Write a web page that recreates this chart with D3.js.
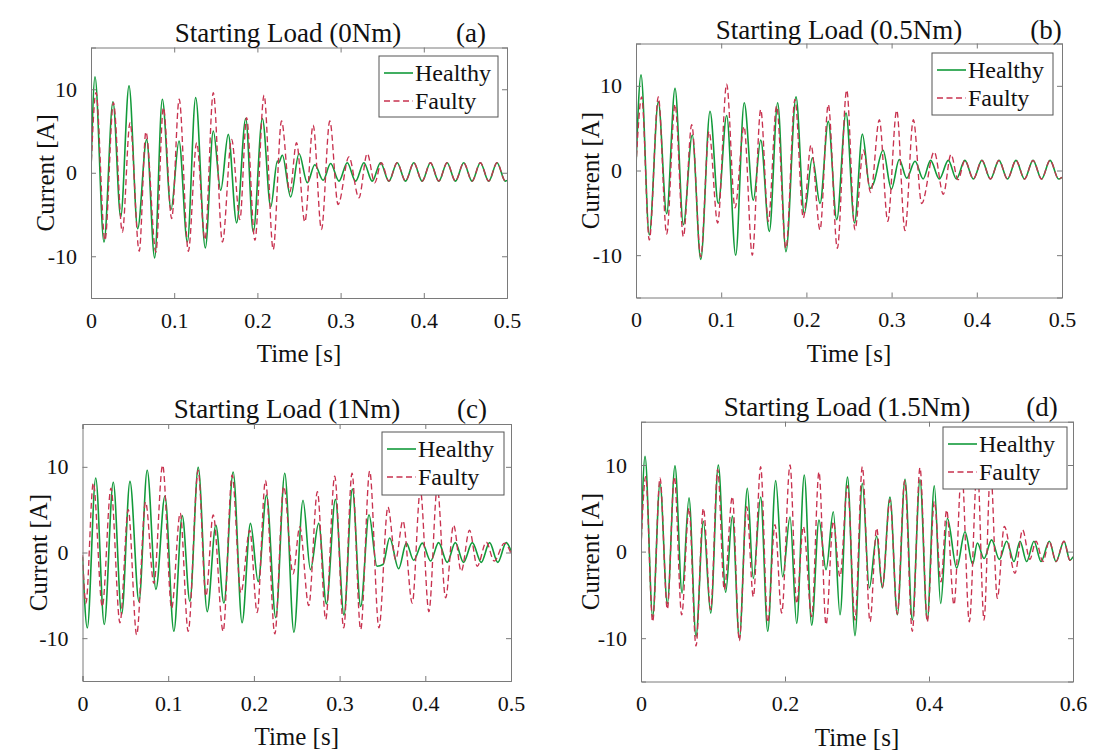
<!DOCTYPE html>
<html>
<head>
<meta charset="utf-8">
<script src="https://cdn.jsdelivr.net/npm/d3@7"></script>
<style>
  html, body { margin: 0; padding: 0; background: #fff; }
  svg { display: block; }
  text { font-family: "Liberation Serif", "Times New Roman", "DejaVu Serif", serif; fill: #111; }
</style>
</head>
<body>
<svg id="chart" width="1094" height="752"></svg>
<script>
// ---------------- DATA (extrema: [time s, current A]) ----------------
const seriesNames = ["Healthy", "Faulty"];
const yTicks = [-10, 0, 10];
const xTicks05 = [0, 0.1, 0.2, 0.3, 0.4, 0.5];
const xTicks06 = [0, 0.2, 0.4, 0.6];
const titles = ["Starting Load (0Nm)", "Starting Load (0.5Nm)", "Starting Load (1Nm)", "Starting Load (1.5Nm)"];
const tags = ["(a)", "(b)", "(c)", "(d)"];

const healthyA = [[0,0.3],[0.0048,11.5],[0.0156,-8.3],[0.0264,8.5],[0.0357,-5.3],[0.0457,10.4],[0.0561,-6.7],[0.0669,4.0],[0.0765,-10.2],[0.0857,8.8],[0.0962,-4.4],[0.1058,3.8],[0.1158,-8.3],[0.1258,9.0],[0.1374,-9.0],[0.147,5.0],[0.1559,-2.1],[0.165,4.6],[0.175,-6.0],[0.186,6.5],[0.195,-7.1],[0.206,6.5],[0.216,-4.1],[0.224,1.4],[0.2255,1.2],[0.230,2.1],[0.240,-2.9],[0.250,2.3],[0.260,-1.2],[0.269,0.95],[0.279,-0.9],[0.288,1.1],[0.298,-1.0],[0.308,1.2],[0.318,-1.0],[0.328,1.2],[0.338,-1.0],[0.348,1.2],[0.358,-1.0],[0.368,1.2],[0.378,-1.0],[0.388,1.2],[0.398,-1.0],[0.408,1.2],[0.418,-1.0],[0.428,1.2],[0.438,-1.0],[0.448,1.2],[0.458,-1.0],[0.468,1.2],[0.478,-1.0],[0.488,1.2],[0.498,-1.0],[0.5,-0.9]];
const faultyA = [[0,0.3],[0.006,9.6],[0.0168,-8.1],[0.027,8.4],[0.0377,-7.1],[0.0469,6.0],[0.058,-9.4],[0.066,4.9],[0.078,-9.5],[0.087,7.8],[0.097,-5.5],[0.106,8.8],[0.117,-9.4],[0.127,3.6],[0.137,-8.0],[0.147,9.6],[0.158,-8.3],[0.169,4.0],[0.179,-5.6],[0.187,6.6],[0.197,-8.1],[0.208,9.3],[0.219,-9.2],[0.229,6.2],[0.239,-2.3],[0.247,3.6],[0.257,-5.9],[0.267,5.7],[0.277,-6.8],[0.287,6.2],[0.297,-3.8],[0.310,1.9],[0.322,-3.0],[0.332,2.3],[0.341,-1.2],[0.349,1.2],[0.358,-1.0],[0.368,1.2],[0.378,-1.0],[0.388,1.2],[0.398,-1.0],[0.408,1.2],[0.418,-1.0],[0.428,1.2],[0.438,-1.0],[0.448,1.2],[0.458,-1.0],[0.468,1.2],[0.478,-1.0],[0.488,1.2],[0.498,-1.0],[0.5,-0.9]];

const healthyB = [[0,0.5],[0.0059,11.3],[0.0156,-7.6],[0.0262,8.1],[0.036,-5.1],[0.0458,9.7],[0.0556,-6.4],[0.066,4.2],[0.076,-10.5],[0.0869,7.0],[0.0966,-3.9],[0.1064,6.5],[0.117,-10.0],[0.127,8.0],[0.1377,-3.5],[0.1464,3.6],[0.1565,-7.2],[0.1663,8.0],[0.176,-9.6],[0.1878,8.7],[0.1975,-5.1],[0.207,1.5],[0.216,-3.9],[0.2257,5.8],[0.2356,-5.8],[0.2465,6.8],[0.2565,-6.2],[0.2657,4.3],[0.2746,-2.1],[0.2785,-1.6],[0.290,2.4],[0.2997,-2.2],[0.309,1.3],[0.3177,-0.9],[0.3275,1.1],[0.337,-1.0],[0.3458,1.2],[0.356,-1.0],[0.3666,1.2],[0.376,-1.0],[0.386,1.2],[0.396,-1.0],[0.406,1.2],[0.416,-1.0],[0.426,1.2],[0.436,-1.0],[0.446,1.2],[0.456,-1.0],[0.466,1.2],[0.476,-1.0],[0.486,1.2],[0.496,-1.0],[0.5,-0.8]];
const faultyB = [[0,0.5],[0.0067,8.7],[0.0156,-8.2],[0.0262,8.7],[0.036,-7.5],[0.0458,7.8],[0.0556,-7.8],[0.0654,5.4],[0.076,-10.2],[0.0857,4.6],[0.0959,-6.2],[0.1064,10.2],[0.1162,-4.4],[0.1268,5.2],[0.1365,-10.0],[0.1464,7.2],[0.1553,-6.0],[0.165,7.6],[0.176,-9.2],[0.1866,8.4],[0.1964,-5.6],[0.2054,3.0],[0.216,-7.0],[0.2257,7.8],[0.2363,-9.2],[0.2473,9.5],[0.257,-7.0],[0.2668,2.4],[0.2755,-2.6],[0.2856,6.0],[0.2955,-6.0],[0.306,7.1],[0.3157,-7.1],[0.3255,6.0],[0.3353,-3.9],[0.350,2.2],[0.3607,-2.8],[0.3697,1.9],[0.378,-1.1],[0.386,1.2],[0.396,-1.0],[0.406,1.2],[0.416,-1.0],[0.426,1.2],[0.436,-1.0],[0.446,1.2],[0.456,-1.0],[0.466,1.2],[0.476,-1.0],[0.486,1.2],[0.496,-1.0],[0.5,-0.8]];

const healthyC = [[0,-0.5],[0.0056,-8.8],[0.0154,8.7],[0.0254,-8.4],[0.0359,8.2],[0.0457,-7.2],[0.0554,8.3],[0.0659,-5.7],[0.0755,9.6],[0.0857,-4.3],[0.0962,6.6],[0.1066,-9.2],[0.1164,4.3],[0.1253,-5.7],[0.135,9.95],[0.1455,-6.9],[0.1556,3.2],[0.165,-5.9],[0.1758,9.4],[0.1862,-8.2],[0.196,3.4],[0.205,-3.4],[0.2147,6.7],[0.2255,-7.6],[0.236,9.25],[0.2467,-9.3],[0.2573,6.1],[0.266,-2.0],[0.2756,3.4],[0.2846,-6.0],[0.2951,6.2],[0.3051,-7.3],[0.3149,7.4],[0.3246,-6.3],[0.3343,4.4],[0.3436,-1.6],[0.3506,-1.4],[0.3584,1.7],[0.3689,-1.9],[0.3779,1.1],[0.3864,-0.9],[0.3965,1.1],[0.4062,-1.0],[0.4155,1.15],[0.4256,-1.15],[0.435,1.15],[0.4446,-1.15],[0.4548,1.15],[0.4653,-1.15],[0.475,1.15],[0.4846,-1.15],[0.4944,1.15],[0.5,0.2]];
const faultyC = [[0,-0.3],[0.004,-5.9],[0.0126,8.1],[0.0231,-6.3],[0.0332,7.5],[0.0437,-8.2],[0.0534,5.0],[0.0632,-9.6],[0.0736,5.9],[0.0833,-3.6],[0.0935,10.2],[0.104,-6.5],[0.114,4.6],[0.1233,-9.2],[0.135,9.6],[0.144,-5.1],[0.1525,4.4],[0.1641,-9.2],[0.1746,9.05],[0.1848,-4.7],[0.1952,2.6],[0.2038,-7.0],[0.2135,8.4],[0.2244,-9.5],[0.2348,7.7],[0.2457,-2.5],[0.2535,3.0],[0.264,-6.2],[0.2741,7.1],[0.2838,-7.8],[0.2943,8.9],[0.3048,-8.8],[0.3145,9.25],[0.3246,-9.0],[0.3351,9.5],[0.3459,-8.8],[0.3564,5.3],[0.3654,-0.85],[0.3739,3.7],[0.3848,-5.9],[0.3942,7.3],[0.4042,-6.9],[0.414,7.6],[0.4237,-5.3],[0.433,3.2],[0.4419,-2.2],[0.4516,2.6],[0.4606,-1.6],[0.4711,1.2],[0.4804,-1.0],[0.4924,1.1],[0.5,-0.1]];

const healthyD = [[0,0.4],[0.0056,11.0],[0.0162,-7.5],[0.0264,7.9],[0.0366,-6.0],[0.0472,9.9],[0.057,-4.8],[0.0667,6.2],[0.0764,-9.8],[0.0866,3.5],[0.0968,-7.1],[0.1074,10.0],[0.1176,-4.7],[0.1269,4.1],[0.1366,-10.0],[0.1477,7.3],[0.156,-3.1],[0.1662,6.3],[0.176,-9.2],[0.1871,8.2],[0.1968,-2.9],[0.207,4.0],[0.2162,-8.3],[0.2268,8.85],[0.2371,-8.5],[0.2472,3.65],[0.257,-2.1],[0.2671,4.6],[0.2764,-7.3],[0.2868,8.6],[0.2972,-9.7],[0.3074,7.9],[0.3171,-4.2],[0.3273,1.8],[0.3352,-4.2],[0.3458,6.3],[0.356,-7.3],[0.3667,8.35],[0.3768,-7.9],[0.3875,8.3],[0.3976,-7.9],[0.4074,7.6],[0.4162,-6.0],[0.4255,3.85],[0.4384,-1.9],[0.45,2.3],[0.4606,-1.45],[0.4671,1.0],[0.4764,-0.8],[0.487,1.35],[0.4977,-0.9],[0.5079,1.2],[0.518,-1.15],[0.5264,1.2],[0.5356,-1.15],[0.5458,1.2],[0.5556,-1.15],[0.5671,1.2],[0.5764,-1.15],[0.5875,1.2],[0.5958,-1.0],[0.6,-0.6]];
const faultyD = [[0,0.4],[0.0065,8.65],[0.0162,-8.1],[0.0264,8.5],[0.0366,-6.65],[0.0463,8.65],[0.0565,-7.3],[0.0667,5.0],[0.0764,-10.9],[0.0866,5.0],[0.0968,-6.7],[0.1065,9.5],[0.1157,-4.4],[0.1269,6.35],[0.1366,-10.3],[0.1468,5.2],[0.156,-5.2],[0.1662,9.8],[0.176,-8.2],[0.1861,3.1],[0.1954,-7.1],[0.207,10.0],[0.2162,-6.0],[0.2255,2.9],[0.2371,-7.5],[0.2472,9.2],[0.257,-8.45],[0.2671,3.5],[0.2764,-2.9],[0.2868,7.6],[0.2972,-7.9],[0.3074,9.8],[0.3181,-8.1],[0.3273,2.7],[0.3352,-4.1],[0.3458,6.0],[0.356,-7.2],[0.3662,8.2],[0.3768,-9.2],[0.3875,9.7],[0.3976,-8.1],[0.4074,5.8],[0.4167,-3.5],[0.4245,4.8],[0.4347,-6.15],[0.4454,9.5],[0.456,-8.1],[0.4671,10.0],[0.4764,-7.9],[0.4855,9.5],[0.4949,-5.4],[0.5046,2.9],[0.5194,-2.5],[0.53,2.5],[0.54,-0.9],[0.5486,1.2],[0.5583,-1.15],[0.5671,1.2],[0.5764,-1.15],[0.5875,1.2],[0.5958,-1.0],[0.6,-0.6]];

// ---------------- LAYOUT ----------------
const panels = [
  { x0: 91,  x1: 507,  y0: 47.5, y1: 298, xmax: 0.5, xticks: xTicks05, h: healthyA, f: faultyA,
    titleX: 288, tagX: 471, titleY: 42, ylabX: 45, leg: { x: 379, y: 56, w: 119, h: 61 } },
  { x0: 636, x1: 1062, y0: 43.5, y1: 297.5, xmax: 0.5, xticks: xTicks05, h: healthyB, f: faultyB,
    titleX: 839, tagX: 1046, titleY: 38.5, ylabX: 590, leg: { x: 932, y: 53, w: 121, h: 62 } },
  { x0: 82.5, x1: 511, y0: 424, y1: 681, xmax: 0.5, xticks: xTicks05, h: healthyC, f: faultyC,
    titleX: 287, tagX: 472, titleY: 418, ylabX: 38, leg: { x: 382, y: 432, w: 122, h: 63 } },
  { x0: 641, x1: 1073, y0: 421.7, y1: 681.5, xmax: 0.6, xticks: xTicks06, h: healthyD, f: faultyD,
    titleX: 847, tagX: 1042, titleY: 416, ylabX: 590, leg: { x: 943, y: 427, w: 124, h: 62 } }
];

const GREEN = "#129a3a";
const RED = "#c8324f";
const AXIS = "#7a7a7a";

const svg = d3.select("#chart");

panels.forEach((p, i) => {
  const x = d3.scaleLinear().domain([0, p.xmax]).range([p.x0, p.x1]);
  const y = d3.scaleLinear().domain([-15, 15]).range([p.y1, p.y0]);
  const g = svg.append("g");

  const clipId = "clip" + i;
  g.append("clipPath").attr("id", clipId)
    .append("rect").attr("x", p.x0).attr("y", p.y0).attr("width", p.x1 - p.x0).attr("height", p.y1 - p.y0);

  const line = d3.line().x(d => x(d[0])).y(d => y(d[1])).curve(d3.curveMonotoneX);

  const plot = g.append("g").attr("clip-path", `url(#${clipId})`);
  plot.append("path").datum(p.h).attr("d", line)
    .attr("fill", "none").attr("stroke", GREEN).attr("stroke-width", 1.6).attr("stroke-linejoin", "round");
  plot.append("path").datum(p.f).attr("d", line)
    .attr("fill", "none").attr("stroke", RED).attr("stroke-width", 1.35)
    .attr("stroke-dasharray", "6,3.5");

  // axes (MATLAB-style inward ticks on all sides)
  const tl = 5;
  const xb = d3.axisBottom(x).tickValues(p.xticks).tickSize(-tl).tickFormat(d3.format("~g")).tickPadding(14);
  const xt = d3.axisTop(x).tickValues(p.xticks).tickSize(-tl).tickFormat("");
  const yl = d3.axisLeft(y).tickValues(yTicks).tickSize(-tl).tickFormat(d => d < 0 ? "-" + Math.abs(d) : d).tickPadding(14);
  const yr = d3.axisRight(y).tickValues(yTicks).tickSize(-tl).tickFormat("");

  const styleAxis = sel => {
    sel.select(".domain").attr("stroke", AXIS).attr("stroke-width", 1);
    sel.selectAll(".tick line").attr("stroke", AXIS).attr("stroke-width", 1);
    sel.selectAll("text").attr("font-family", '"Liberation Serif", "Times New Roman", serif')
      .attr("font-size", 22).attr("fill", "#111");
  };
  g.append("g").attr("transform", `translate(0,${p.y1})`).call(xb).call(styleAxis);
  g.append("g").attr("transform", `translate(0,${p.y0})`).call(xt).call(styleAxis);
  g.append("g").attr("transform", `translate(${p.x0},0)`).call(yl).call(styleAxis);
  g.append("g").attr("transform", `translate(${p.x1},0)`).call(yr).call(styleAxis);

  // labels
  g.append("text").attr("x", (p.x0 + p.x1) / 2).attr("y", p.y1 + 64)
    .attr("text-anchor", "middle").attr("font-size", 25).text("Time [s]");
  g.append("text").attr("transform", `translate(${p.ylabX + 9},${(p.y0 + p.y1) / 2}) rotate(-90)`)
    .attr("text-anchor", "middle").attr("font-size", 25).text("Current [A]");
  g.append("text").attr("x", p.titleX).attr("y", p.titleY)
    .attr("text-anchor", "middle").attr("font-size", 27).text(titles[i]);
  g.append("text").attr("x", p.tagX).attr("y", p.titleY)
    .attr("text-anchor", "middle").attr("font-size", 27).text(tags[i]);

  // legend
  const L = p.leg;
  const lg = g.append("g");
  lg.append("rect").attr("x", L.x).attr("y", L.y).attr("width", L.w).attr("height", L.h)
    .attr("fill", "#fff").attr("stroke", "#555").attr("stroke-width", 1);
  seriesNames.forEach((name, k) => {
    const cy = L.y + 17 + k * 28;
    lg.append("line").attr("x1", L.x + 5).attr("x2", L.x + 34).attr("y1", cy).attr("y2", cy)
      .attr("stroke", k === 0 ? GREEN : RED).attr("stroke-width", k === 0 ? 1.6 : 1.35)
      .attr("stroke-dasharray", k === 0 ? null : "6,3.5");
    lg.append("text").attr("x", L.x + 36).attr("y", cy + 8).attr("font-size", 24).text(name);
  });
});
</script>
</body>
</html>
